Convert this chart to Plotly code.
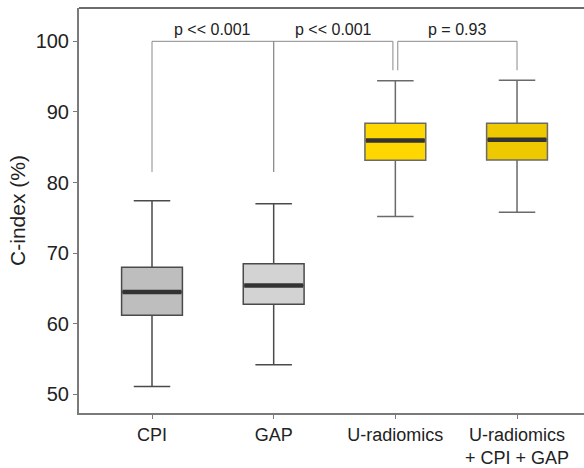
import plotly.graph_objects as go

# ---- data ----
categories = ["CPI", "GAP", "U-radiomics", "U-radiomics<br>+ CPI + GAP"]
lower_whisker = [51.1, 54.2, 75.2, 75.8]
q1_vals = [61.2, 62.75, 83.15, 83.2]
medians = [64.5, 65.4, 85.95, 86.05]
q3_vals = [68.0, 68.5, 88.4, 88.4]
upper_whisker = [77.4, 77.0, 94.4, 94.5]
box_colors = ["#bebebe", "#d3d3d3", "#ffd700", "#eec900"]
line_colors = ["#4a4a4a", "#4a4a4a", "#6a6a6a", "#6a6a6a"]

# comparisons: (left index, right index, label, left end, right end)
comp_left = [0, 1, 2]
comp_right = [1, 2, 3]
comp_labels = ["p << 0.001", "p << 0.001", "p = 0.93"]
comp_left_end = [81.5, 81.5, 95.9]
comp_right_end = [81.5, 95.9, 95.9]
bracket_top = 100
y_ticks = [50, 60, 70, 80, 90, 100]

fig = go.Figure()
box_w = 0.5
for i, cat in enumerate(categories):
    fig.add_trace(go.Box(
        x=[i], q1=[q1_vals[i]], median=[medians[i]], q3=[q3_vals[i]],
        lowerfence=[lower_whisker[i]], upperfence=[upper_whisker[i]],
        width=box_w, whiskerwidth=0.6, fillcolor=box_colors[i],
        line=dict(color=line_colors[i], width=1.5), boxpoints=False,
        showlegend=False, hoverinfo="skip"))
    fig.add_trace(go.Scatter(
        x=[i - box_w / 2 + 0.008, i + box_w / 2 - 0.008], y=[medians[i], medians[i]],
        mode="lines", line=dict(color="#333333", width=4.5),
        showlegend=False, hoverinfo="skip"))

off = 0.02
for k in range(len(comp_left)):
    a, b = comp_left[k], comp_right[k]
    xa = a + (off if a == 2 else 0)
    xb = b - (off if b == 2 else 0)
    fig.add_trace(go.Scatter(
        x=[xa, xa, xb, xb],
        y=[comp_left_end[k], bracket_top, bracket_top, comp_right_end[k]],
        mode="lines", line=dict(color="#8a8a8a", width=1),
        showlegend=False, hoverinfo="skip"))
    fig.add_annotation(x=(xa + xb) / 2, y=bracket_top, text=comp_labels[k],
                       showarrow=False, yanchor="bottom", yshift=1,
                       font=dict(size=16, color="#222222"))

# top frame line of the panel
fig.add_shape(type="line", xref="paper", yref="paper", x0=0, x1=1, y0=1, y1=1,
              line=dict(color="#3a3a3a", width=1.5))

# the panel continues past the right edge of the 584 px window (cropped frame)
fig.update_layout(
    width=600, height=468,
    margin=dict(l=79, r=0, t=8, b=50),
    paper_bgcolor="white", plot_bgcolor="white",
    font=dict(family="Liberation Sans, Arial, sans-serif", color="#222222"),
    xaxis=dict(range=[-0.6, 3.682], tickmode="array",
               tickvals=list(range(len(categories))), ticktext=categories,
               showline=True, linecolor="#7a7a7a", linewidth=2, mirror=False,
               ticks="outside", ticklen=4, tickcolor="#7a7a7a",
               showgrid=False, zeroline=False, tickfont=dict(size=18)),
    yaxis=dict(range=[47.35, 104.72], tickvals=y_ticks,
               showline=True, linecolor="#7a7a7a", linewidth=2, mirror=False,
               ticks="outside", ticklen=4, tickcolor="#7a7a7a",
               showgrid=False, zeroline=False, tickfont=dict(size=20),
               title=dict(text="C-index (%)", font=dict(size=21), standoff=4)),
)

fig.write_html(
    "out.html",
    config={"displayModeBar": False},
    post_script="document.body.style.margin='0';document.body.style.overflow='hidden';",
)
